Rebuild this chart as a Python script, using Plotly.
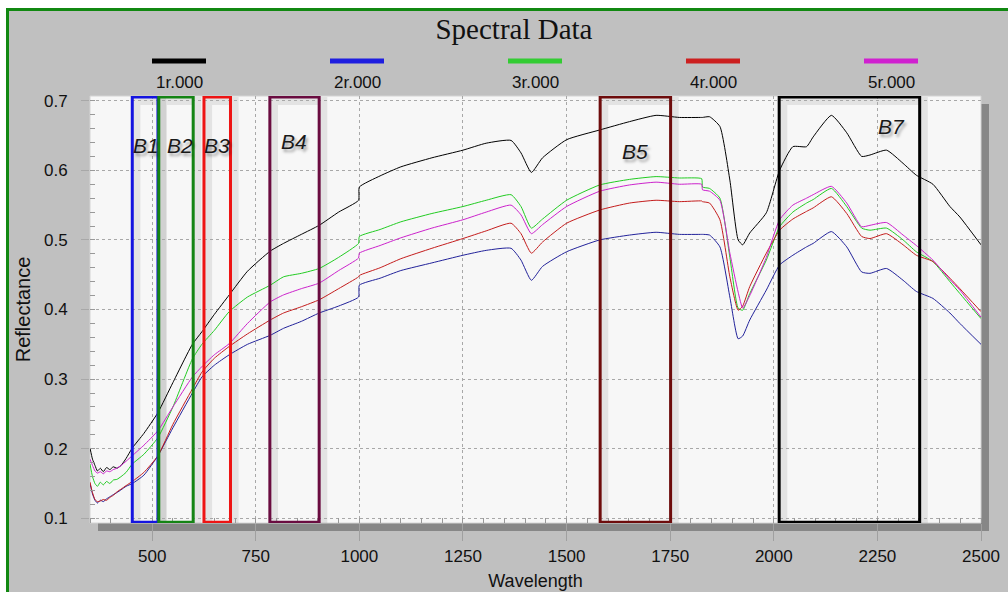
import plotly.graph_objects as go

# ---------------- data ----------------
WAVELENGTH = [350, 356, 362, 368, 375, 382, 390, 398, 406, 415, 425, 437, 452,
              480, 514, 550, 597, 620, 650, 686, 730, 785, 817, 860, 903, 950,
              998, 1000, 1050, 1100, 1175, 1250, 1306, 1366, 1390, 1415, 1442,
              1500, 1580, 1652, 1716, 1772, 1826, 1828, 1845, 1870, 1894, 1914,
              1925, 1942, 1982, 2014, 2046, 2079, 2095, 2139, 2176, 2212, 2232,
              2272, 2312, 2344, 2384, 2425, 2449, 2500]

R1 = [0.201, 0.185, 0.176, 0.168, 0.172, 0.167, 0.173, 0.170, 0.174, 0.172, 0.176, 0.186, 0.201,
      0.222, 0.252, 0.295, 0.350, 0.368, 0.393, 0.421, 0.455, 0.484, 0.495, 0.508, 0.521, 0.540,
      0.557, 0.576, 0.592, 0.605, 0.618, 0.629, 0.639, 0.643, 0.625, 0.597, 0.618,
      0.644, 0.658, 0.670, 0.679, 0.676, 0.676, 0.676, 0.677, 0.663, 0.586, 0.500,
      0.493, 0.510, 0.539, 0.600, 0.634, 0.634, 0.648, 0.679, 0.654, 0.620, 0.622,
      0.629, 0.610, 0.593, 0.580, 0.548, 0.533, 0.493]

R2 = [0.150, 0.135, 0.126, 0.122, 0.126, 0.124, 0.128, 0.131, 0.134, 0.137, 0.141, 0.146, 0.150,
      0.162, 0.190, 0.230, 0.280, 0.303, 0.320, 0.335, 0.350, 0.363, 0.373, 0.383, 0.395, 0.405,
      0.418, 0.435, 0.445, 0.456, 0.467, 0.478, 0.485, 0.488, 0.471, 0.442, 0.462,
      0.483, 0.500, 0.507, 0.511, 0.508, 0.508, 0.508, 0.507, 0.490, 0.418, 0.358,
      0.362, 0.385, 0.428, 0.464, 0.478, 0.490, 0.495, 0.512, 0.490, 0.454, 0.452,
      0.459, 0.442, 0.426, 0.416, 0.395, 0.380, 0.350]

R3 = [0.178, 0.160, 0.150, 0.146, 0.152, 0.148, 0.153, 0.150, 0.155, 0.156, 0.160, 0.166, 0.178,
      0.192, 0.216, 0.260, 0.329, 0.350, 0.370, 0.397, 0.418, 0.435, 0.447, 0.452, 0.459, 0.475,
      0.495, 0.505, 0.515, 0.526, 0.538, 0.548, 0.557, 0.565, 0.548, 0.517, 0.530,
      0.557, 0.579, 0.587, 0.591, 0.589, 0.588, 0.576, 0.574, 0.560, 0.475, 0.402,
      0.399, 0.423, 0.471, 0.519, 0.540, 0.553, 0.558, 0.574, 0.548, 0.517, 0.514,
      0.517, 0.500, 0.483, 0.469, 0.440, 0.423, 0.387]

R4 = [0.152, 0.137, 0.127, 0.124, 0.125, 0.127, 0.126, 0.130, 0.133, 0.138, 0.142, 0.147, 0.153,
      0.166, 0.190, 0.235, 0.286, 0.310, 0.330, 0.347, 0.365, 0.385, 0.395, 0.404, 0.414, 0.430,
      0.447, 0.449, 0.460, 0.473, 0.488, 0.502, 0.513, 0.524, 0.509, 0.481, 0.497,
      0.524, 0.543, 0.553, 0.557, 0.555, 0.556, 0.555, 0.553, 0.529, 0.447, 0.399,
      0.405, 0.433, 0.481, 0.514, 0.530, 0.541, 0.546, 0.562, 0.538, 0.505, 0.502,
      0.509, 0.493, 0.478, 0.469, 0.445, 0.430, 0.397]

R5 = [0.185, 0.176, 0.168, 0.165, 0.167, 0.164, 0.168, 0.167, 0.170, 0.172, 0.176, 0.182, 0.190,
      0.205, 0.226, 0.260, 0.303, 0.318, 0.335, 0.351, 0.380, 0.411, 0.421, 0.430, 0.438, 0.456,
      0.474, 0.481, 0.492, 0.503, 0.517, 0.529, 0.540, 0.550, 0.536, 0.509, 0.522,
      0.548, 0.570, 0.579, 0.583, 0.580, 0.580, 0.572, 0.570, 0.557, 0.481, 0.425,
      0.402, 0.420, 0.475, 0.529, 0.550, 0.560, 0.565, 0.577, 0.553, 0.519, 0.521,
      0.525, 0.507, 0.492, 0.471, 0.443, 0.428, 0.389]

SERIES_NAMES = ["1r.000", "2r.000", "3r.000", "4r.000", "5r.000"]
SERIES_VALUES = [R1, R2, R3, R4, R5]
LINE_COLORS = ["#000000", "#22229a", "#22cc22", "#c41c1c", "#cc22cc"]
LEGEND_COLORS = ["#000000", "#1e1ee0", "#33cc33", "#cc2020", "#d020d0"]

BAND_NAMES = ["B1", "B2", "B3", "B4", "B5", "B7"]
BAND_START = [452, 516, 625, 784, 1581, 2013]
BAND_END = [514, 599, 689, 903, 1751, 2352]
BAND_COLORS = ["#1414e0", "#148414", "#ee1414", "#6a0c40", "#6e0c0c", "#000000"]
BAND_LABEL_X = [485, 567, 656, 842, 1665, 2285]
BAND_LABEL_Y = [0.635, 0.635, 0.636, 0.642, 0.627, 0.663]

X_TICKS = [500, 750, 1000, 1250, 1500, 1750, 2000, 2250, 2500]
Y_TICKS = [0.1, 0.2, 0.3, 0.4, 0.5, 0.6, 0.7]

# ---------------- figure ----------------
W, H = 1008, 592
ML, MR, MT, MB = 90, 27, 96, 69
PW, PH = W - ML - MR, H - MT - MB


def px2paper_x(px):
    return (px - ML) / PW


def px2paper_y(py):
    return (H - MB - py) / PH


fig = go.Figure()

for name, vals, col in zip(SERIES_NAMES, SERIES_VALUES, LINE_COLORS):
    fig.add_trace(go.Scatter(x=WAVELENGTH, y=vals, mode="lines", name=name,
                             line=dict(color=col, width=1, shape="spline", smoothing=0.5),
                             showlegend=False))

shapes = []
# outer gray panel with green border
shapes.append(dict(type="rect", xref="paper", yref="paper",
                   x0=px2paper_x(7.5), x1=px2paper_x(1015), y0=px2paper_y(600), y1=px2paper_y(9.5),
                   fillcolor="#c0c0c0", line=dict(color="#118811", width=3), layer="below"))
# plot shadow
shapes.append(dict(type="rect", xref="paper", yref="paper",
                   x0=px2paper_x(ML + 8), x1=px2paper_x(ML + PW + 8),
                   y0=px2paper_y(H - MB + 8), y1=px2paper_y(MT + 8),
                   fillcolor="#878787", line=dict(width=0), layer="below"))
# plot background
shapes.append(dict(type="rect", xref="paper", yref="paper", x0=0, x1=1, y0=0, y1=1,
                   fillcolor="#f7f7f7", line=dict(color="#d4d4d4", width=1), layer="below"))

# band boxes (soft shadow + frame)
for x0, x1, col in zip(BAND_START, BAND_END, BAND_COLORS):
    shapes.append(dict(type="rect", xref="x", yref="y", x0=x0 + 10, x1=x1 + 10,
                       y0=0.0945 - 0.006, y1=0.7055 - 0.006,
                       line=dict(color="rgba(0,0,0,0.08)", width=8), layer="below"))
for x0, x1, col in zip(BAND_START, BAND_END, BAND_COLORS):
    shapes.append(dict(type="rect", xref="x", yref="y", x0=x0, x1=x1, y0=0.0945, y1=0.7055,
                       line=dict(color=col, width=3), layer="above"))

annotations = []
# custom legend: swatch above, label below
for i, (name, col) in enumerate(zip(SERIES_NAMES, LEGEND_COLORS)):
    cx = 179 + i * 178
    shapes.append(dict(type="line", xref="paper", yref="paper",
                       x0=px2paper_x(cx - 27), x1=px2paper_x(cx + 27),
                       y0=px2paper_y(61), y1=px2paper_y(61),
                       line=dict(color=col, width=5)))
    annotations.append(dict(xref="paper", yref="paper", x=px2paper_x(cx), y=px2paper_y(83),
                            text=name, showarrow=False, xanchor="center", yanchor="middle",
                            font=dict(family="Liberation Sans, Arial", size=17, color="#111111")))

for lab, lx, ly in zip(BAND_NAMES, BAND_LABEL_X, BAND_LABEL_Y):
    annotations.append(dict(xref="x", yref="y", x=lx, y=ly, text=lab, showarrow=False,
                            xanchor="center", yanchor="middle",
                            font=dict(family="Liberation Sans, Arial", size=21, color="#1a1a1a",
                                      style="italic", shadow="2px 3px 3px rgba(0,0,0,0.35)")))

fig.update_layout(
    width=W, height=H,
    margin=dict(l=ML, r=MR, t=MT, b=MB, autoexpand=False),
    paper_bgcolor="#ffffff", plot_bgcolor="#f7f7f7",
    title=dict(text="Spectral Data", x=(434 + 594) / 2 / W, xanchor="center",
               y=1 - 29 / H, yanchor="middle",
               font=dict(family="Liberation Serif, Times New Roman", size=29, color="#111111")),
    shapes=shapes, annotations=annotations,
    font=dict(family="Liberation Sans, Arial", color="#111111"),
)

fig.update_xaxes(
    range=[350, 2500], tickvals=X_TICKS, ticktext=[str(v) for v in X_TICKS],
    showgrid=True, gridcolor="#a8a8a8", griddash="3px,3px", gridwidth=1,
    zeroline=False, showline=False,
    ticks="outside", ticklen=17, tickcolor="#a0a0a0",
    minor=dict(dtick=50, tick0=0, ticks="inside", ticklen=5, tickcolor="#999999", showgrid=False),
    tickfont=dict(size=17, color="#111111"), ticklabelstandoff=1,
    title=dict(text="Wavelength", font=dict(size=18, color="#111111"), standoff=8),
    automargin=False,
)
fig.update_yaxes(
    range=[0.0933, 0.7068], tickvals=Y_TICKS, ticktext=[f"{v:.1f}" for v in Y_TICKS],
    showgrid=True, gridcolor="#a8a8a8", griddash="3px,3px", gridwidth=1,
    zeroline=False, showline=False,
    ticks="outside", ticklen=8, tickcolor="#a8a8a8",
    minor=dict(dtick=0.02, tick0=0.1, ticks="inside", ticklen=5, tickcolor="#999999", showgrid=False),
    tickfont=dict(size=17, color="#111111"), ticklabelstandoff=10,
    title=dict(text="Reflectance", font=dict(size=20, color="#111111"), standoff=7),
    automargin=False,
)

fig.write_html("out.html", config={"displayModeBar": False},
               post_script="document.body.style.margin='0';")
